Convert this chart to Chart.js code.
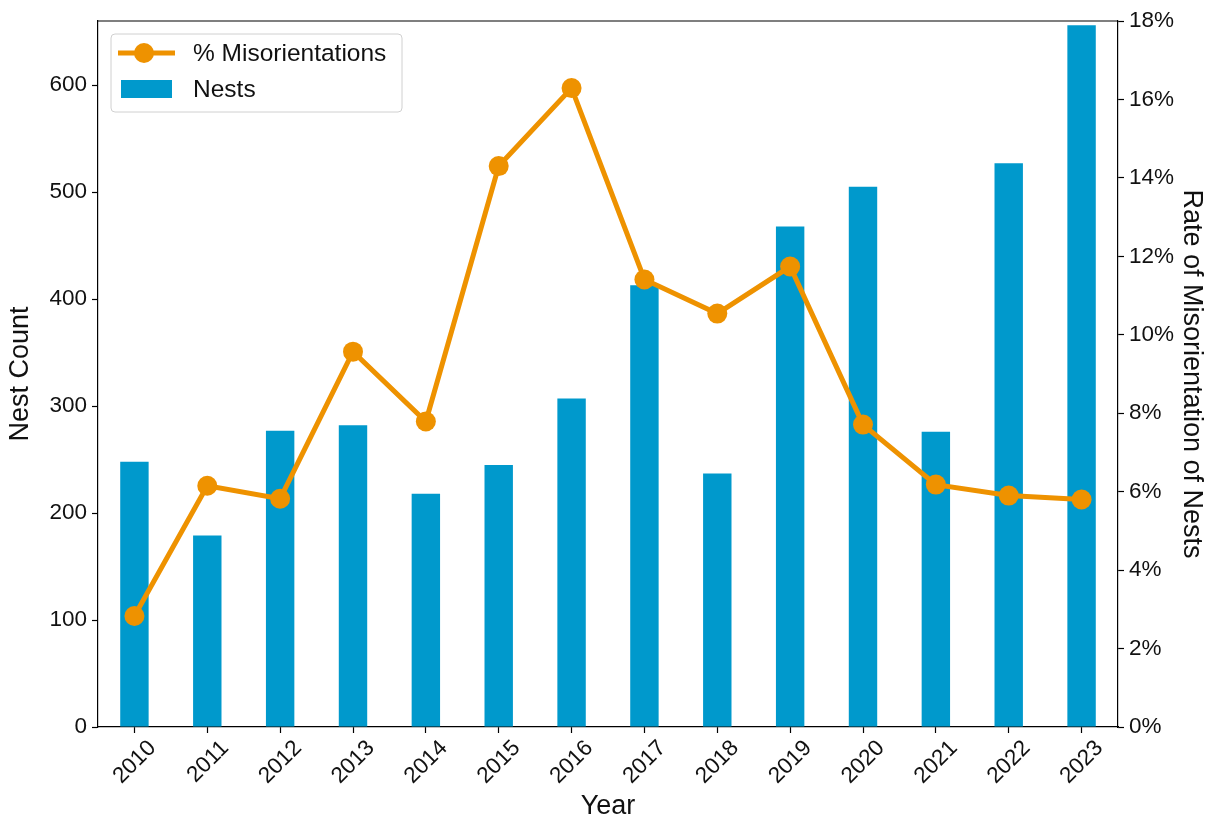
<!DOCTYPE html>
<html>
<head>
<meta charset="utf-8">
<script src="https://cdn.jsdelivr.net/npm/chart.js@4"></script>
<style>
  html, body { margin: 0; padding: 0; background: #fff; }
  #wrap { width: 1212px; height: 823px; }
</style>
</head>
<body>
<div id="wrap"><canvas id="nestChart" width="1212" height="823"></canvas></div>
<script>
// Data
const years = ["2010", "2011", "2012", "2013", "2014", "2015", "2016", "2017", "2018", "2019", "2020", "2021", "2022", "2023"];
const nests = [248, 179, 277, 282, 218, 245, 307, 413, 237, 468, 505, 276, 527, 656];
const misorientPct = [2.83, 6.15, 5.82, 9.57, 7.79, 14.30, 16.29, 11.41, 10.54, 11.74, 7.71, 6.18, 5.90, 5.80];
const nestTicks = [0, 100, 200, 300, 400, 500, 600];

const FONT = "'Liberation Sans', Arial, sans-serif";
const BLUE = "#0099cc";
const ORANGE = "#ee9200";
const TICK_SIZE = 22.5;
const TITLE_SIZE = 27;

// frame on top + legend box in upper left
const framePlugin = {
    id: "frame",
    afterDraw(chart) {
        const ctx = chart.ctx;
        const a = chart.chartArea;
        ctx.save();
        ctx.strokeStyle = "#000";
        ctx.lineWidth = 1.2;
        ctx.beginPath();
        ctx.moveTo(a.left, a.top);
        ctx.lineTo(a.right, a.top);
        ctx.stroke();

        // legend
        const x0 = a.left + 13, y0 = a.top + 13, w = 291, h = 78;
        ctx.fillStyle = "rgba(255,255,255,0.85)";
        ctx.strokeStyle = "#d0d0d0";
        ctx.lineWidth = 1;
        ctx.beginPath();
        ctx.roundRect(x0, y0, w, h, 4);
        ctx.fill();
        ctx.stroke();

        const line = chart.data.datasets[0];
        const bar = chart.data.datasets[1];
        // line entry
        ctx.strokeStyle = ORANGE;
        ctx.lineWidth = 5;
        ctx.beginPath();
        ctx.moveTo(x0 + 7, y0 + 19);
        ctx.lineTo(x0 + 64, y0 + 19);
        ctx.stroke();
        ctx.fillStyle = ORANGE;
        ctx.beginPath();
        ctx.arc(x0 + 33, y0 + 19, 10, 0, Math.PI * 2);
        ctx.fill();
        // bar entry
        ctx.fillStyle = BLUE;
        ctx.fillRect(x0 + 10, y0 + 46, 51, 18);

        ctx.fillStyle = "#111";
        ctx.font = "24.5px " + FONT;
        ctx.textBaseline = "middle";
        ctx.fillText(line.label, x0 + 82, y0 + 20);
        ctx.fillText(bar.label, x0 + 82, y0 + 56);
        ctx.restore();
    }
};

const axisGrid = { display: true, drawOnChartArea: false, drawTicks: true, tickLength: 6, tickColor: "#000", tickWidth: 1.2 };

new Chart(document.getElementById("nestChart"), {
    data: {
        labels: years,
        datasets: [{
            type: "line",
            label: "% Misorientations",
            data: misorientPct,
            yAxisID: "y1",
            borderColor: ORANGE,
            backgroundColor: ORANGE,
            borderWidth: 5,
            pointRadius: 10,
            pointHoverRadius: 10,
            pointBorderWidth: 0,
            order: 0
        }, {
            type: "bar",
            label: "Nests",
            data: nests,
            yAxisID: "y",
            backgroundColor: BLUE,
            barPercentage: 0.39,
            categoryPercentage: 1.0,
            order: 1
        }]
    },
    options: {
        responsive: false,
        animation: false,
        layout: { padding: { top: 21, right: 0, left: 0, bottom: 0 } },
        plugins: {
            legend: { display: false },
            tooltip: { enabled: false }
        },
        scales: {
            x: {
                offset: true,
                grid: { ...axisGrid, offset: false },
                border: { display: true, color: "#000", width: 1.2 },
                ticks: { color: "#111", font: { family: FONT, size: TICK_SIZE }, maxRotation: 45, minRotation: 45, padding: 2, labelOffset: 18 },
                title: { display: true, text: "Year", color: "#111", font: { family: FONT, size: TITLE_SIZE }, padding: { top: 0, bottom: 0 } },
                afterFit(scale) { scale.height = 96; }
            },
            y: {
                position: "left",
                min: 0,
                max: 660,
                grid: axisGrid,
                border: { display: true, color: "#000", width: 1.2 },
                afterBuildTicks(scale) { scale.ticks = nestTicks.map(v => ({ value: v })); },
                ticks: { color: "#111", font: { family: FONT, size: TICK_SIZE }, padding: 5 },
                title: { display: true, text: "Nest Count", color: "#111", font: { family: FONT, size: TITLE_SIZE }, padding: { top: 4, bottom: 0 } },
                afterFit(scale) { scale.width = 98; }
            },
            y1: {
                position: "right",
                min: 0,
                max: 18,
                grid: axisGrid,
                border: { display: true, color: "#000", width: 1.2 },
                ticks: { stepSize: 2, color: "#111", font: { family: FONT, size: TICK_SIZE }, padding: 5,
                    callback: v => v + "%" },
                title: { display: true, text: "Rate of Misorientation of Nests", color: "#111", font: { family: FONT, size: TITLE_SIZE }, padding: { top: 4, bottom: 0 } },
                afterFit(scale) { scale.width = 94; }
            }
        }
    },
    plugins: [framePlugin]
});
</script>
</body>
</html>
